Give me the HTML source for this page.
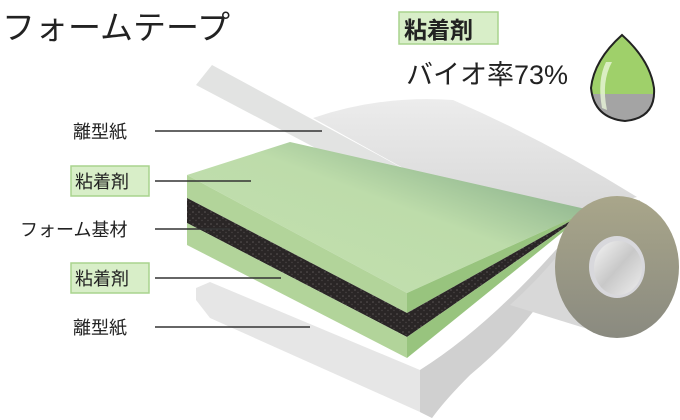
<!DOCTYPE html>
<html><head><meta charset="utf-8"><style>
html,body{margin:0;padding:0;background:#fff;}
svg{display:block;}
text{font-family:"Liberation Sans","Noto Sans CJK JP",sans-serif;fill:#222;}
</style></head><body>
<svg width="680" height="420" viewBox="0 0 680 420" xmlns="http://www.w3.org/2000/svg">
<defs>
<linearGradient id="gtop" x1="0" y1="1" x2="1" y2="0">
<stop offset="0" stop-color="#c4e0b0"/><stop offset="0.55" stop-color="#bddcaa"/><stop offset="1" stop-color="#6f9a7c"/>
</linearGradient>
<linearGradient id="paper" x1="0" y1="0" x2="0" y2="1">
<stop offset="0" stop-color="#ececec"/><stop offset="1" stop-color="#d4d4d4"/>
</linearGradient>
<linearGradient id="ring" x1="0" y1="0" x2="0" y2="1">
<stop offset="0" stop-color="#a9a68a"/><stop offset="1" stop-color="#8a8a80"/>
</linearGradient>
<linearGradient id="hole" x1="0" y1="0" x2="1" y2="1">
<stop offset="0" stop-color="#f4f4f4"/><stop offset="0.5" stop-color="#c8c8c8"/><stop offset="1" stop-color="#eeeeee"/>
</linearGradient>
<pattern id="foam" width="6" height="6" patternUnits="userSpaceOnUse">
<rect width="6" height="6" fill="#2a2626"/><circle cx="1" cy="2" r="0.8" fill="#5a5555"/><circle cx="4" cy="4.5" r="0.7" fill="#4a4545"/>
</pattern>
</defs>

<text x="2" y="39" font-size="33">フォームテープ</text>

<!-- bottom release paper -->
<path d="M196,288 L210,282 L420,370 Q500,320 590,210 Q560,300 470,375 Q445,400 432,418 L420,412 L210,318 L196,300 Z" fill="#e6e6e6"/>
<path d="M420,370 Q500,320 590,210 Q560,300 470,375 Q445,400 432,418 L420,412 Z" fill="#d0d0d0"/>

<!-- roll body -->
<path d="M590,210 L640,200 L617,338 L510,305 Q560,260 590,210 Z" fill="#d8d8d8"/>

<!-- top release paper -->
<path d="M196,85 L212,65 L430,183 L420,203 Z" fill="#e2e3e2"/>
<path d="M313,118 Q380,95 453,100 Q545,140 637,197 L590,210 Q540,240 500,232 Q440,220 420,203 L430,183 Z" fill="url(#paper)"/>
<path d="M420,203 Q440,220 500,232 Q545,238 590,210 Q520,218 470,200 L430,183 Z" fill="#cfcfcf"/>

<!-- green block -->
<path d="M187,175 L290,142 L590,210 L407,293 Z" fill="url(#gtop)"/>
<path d="M187,175 L407,293 L407,313 L187,198 Z" fill="#b2d49a"/>
<path d="M187,198 L407,313 L407,337 L187,223 Z" fill="url(#foam)"/>
<path d="M187,223 L407,337 L407,358 L187,245 Z" fill="#b2d49a"/>
<path d="M407,293 L590,210 L407,313 Z" fill="#98c47e"/>
<path d="M407,313 L590,210 L407,337 Z" fill="url(#foam)"/>
<path d="M407,337 L590,210 L407,358 Z" fill="#98c47e"/>

<!-- roll end -->
<ellipse cx="617" cy="267" rx="62" ry="71" fill="url(#ring)"/>
<ellipse cx="617" cy="267" rx="28" ry="31" fill="#d8d8dc"/>
<ellipse cx="618" cy="268" rx="24" ry="27" fill="url(#hole)"/>

<!-- leader lines -->
<g stroke="#333" stroke-width="1.5">
<line x1="155" y1="131" x2="322" y2="131"/>
<line x1="155" y1="181" x2="251" y2="181"/>
<line x1="155" y1="229" x2="230" y2="229"/>
<line x1="155" y1="278" x2="281" y2="278"/>
<line x1="155" y1="327" x2="310" y2="327"/>
</g>

<!-- labels -->
<text x="73" y="138" font-size="18">離型紙</text>
<rect x="71" y="166" width="78" height="30" fill="#d8eec8" stroke="#a9d38d" stroke-width="1.5"/>
<text x="75" y="188" font-size="18">粘着剤</text>
<text x="20" y="236" font-size="18">フォーム基材</text>
<rect x="71" y="263" width="78" height="30" fill="#d8eec8" stroke="#a9d38d" stroke-width="1.5"/>
<text x="75" y="285" font-size="18">粘着剤</text>
<text x="73" y="334" font-size="18">離型紙</text>

<!-- top right -->
<rect x="399" y="12" width="99" height="32" fill="#d8eec8" stroke="#a9d38d" stroke-width="1.5"/>
<text x="404" y="38" font-size="23" font-weight="bold">粘着剤</text>
<text x="406" y="84" font-size="27">バイオ率73%</text>

<!-- drop -->
<clipPath id="dc"><path d="M622,35 Q650,60 654,88 Q656,118 625,121 Q594,118 591,88 Q594,60 622,35 Z"/></clipPath>
<g clip-path="url(#dc)">
<rect x="585" y="30" width="75" height="64" fill="#9fd06a"/>
<rect x="585" y="94" width="75" height="35" fill="#a4a4a4"/>
<path d="M606,62 Q597,80 602,108 L607,110 Q601,82 612,62 Z" fill="#e8f5d8" opacity="0.8"/>
</g>
<path d="M622,35 Q650,60 654,88 Q656,118 625,121 Q594,118 591,88 Q594,60 622,35 Z" fill="none" stroke="#222" stroke-width="2"/>
</svg>
</body></html>
